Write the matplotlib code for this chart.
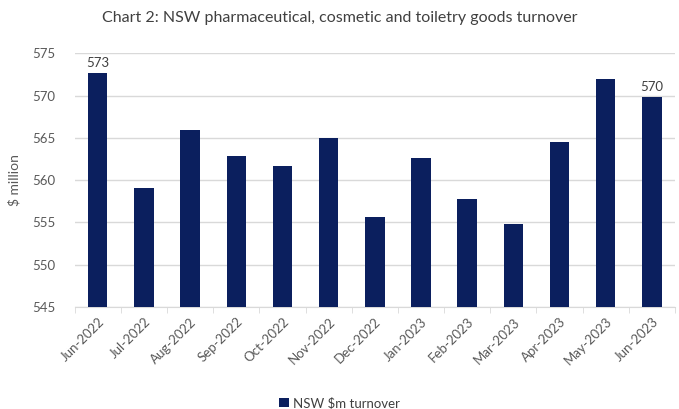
import numpy as np
import matplotlib.pyplot as plt

plt.rcParams['font.family'] = ['Lato', 'DejaVu Sans']

months = ['Jun-2022', 'Jul-2022', 'Aug-2022', 'Sep-2022', 'Oct-2022', 'Nov-2022',
          'Dec-2022', 'Jan-2023', 'Feb-2023', 'Mar-2023', 'Apr-2023', 'May-2023',
          'Jun-2023']
turnover = [572.6, 559.1, 565.9, 562.8, 561.7, 565.0,
            555.6, 562.6, 557.8, 554.8, 564.5, 571.9, 569.8]
yticks = [545, 550, 555, 560, 565, 570, 575]

navy = '#0b1f5e'
grey = '#595959'

fig = plt.figure(figsize=(6.79, 4.09), dpi=100)
ax = fig.add_axes([0.110, 0.249, 0.884, 0.621])

x = np.arange(len(months))
ax.bar(x, turnover, width=0.42, color=navy, zorder=3, label='NSW $m turnover')

# first and last values labelled
for i in (0, len(months) - 1):
    ax.text(x[i], turnover[i] + 0.5, f'{turnover[i]:.0f}', ha='center', va='bottom',
            fontsize=9.5, color='#404040', clip_on=False)

ax.set_ylim(545, 575)
ax.set_yticks(yticks)
ax.set_yticklabels([str(v) for v in yticks], fontsize=9.5, color=grey)
ax.set_xlim(-0.5, len(months) - 0.5)
ax.set_xticks(x)
ax.set_xticklabels(months, rotation=45, ha='right', rotation_mode='anchor',
                   fontsize=9.5, color=grey)
ax.tick_params(axis='x', length=0, pad=6)
ax.tick_params(axis='y', length=0, pad=14)
ax.set_xticks(np.arange(-0.5, len(months), 1), minor=True)
ax.tick_params(axis='x', which='minor', length=4, color='#d9d9d9')

ax.grid(axis='y', color='#d9d9d9', linewidth=1, zorder=0)
for side in ('top', 'right', 'left'):
    ax.spines[side].set_visible(False)
ax.spines['bottom'].set_color('#d9d9d9')

ax.set_ylabel('$ million', fontsize=10, color=grey, labelpad=8)
fig.text(0.5, 0.955, 'Chart 2: NSW pharmaceutical, cosmetic and toiletry goods turnover',
         ha='center', va='center', fontsize=11.5, color='#404040')

fig.legend(loc='center', bbox_to_anchor=(0.5, 0.015), frameon=False, fontsize=9.5,
           handlelength=0.7, handleheight=0.7, handletextpad=0.3, labelcolor='#404040')

fig.savefig('out.png', dpi=100)
